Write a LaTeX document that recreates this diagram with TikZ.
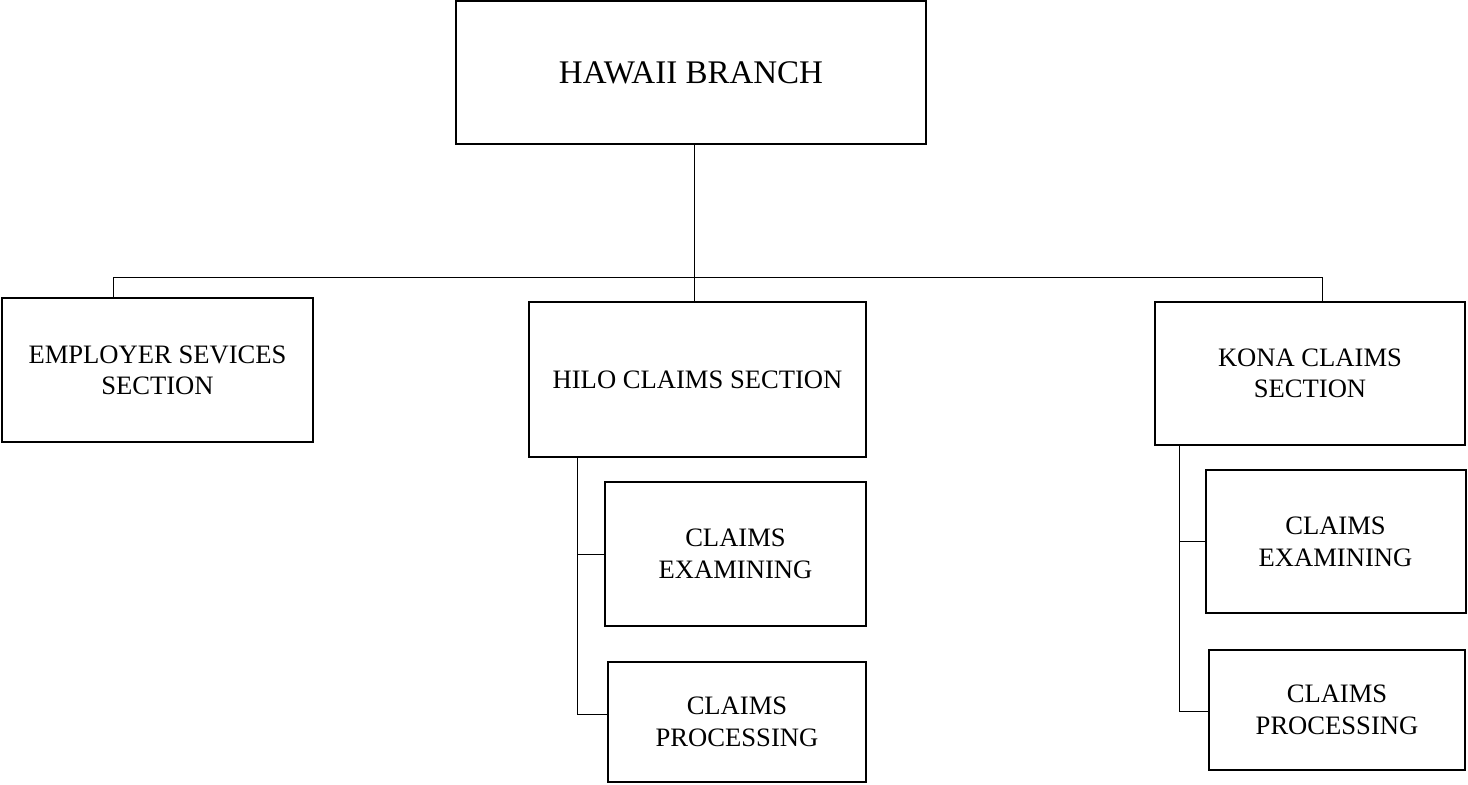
\documentclass[tikz,border=0pt]{standalone}
\usepackage{fontspec}
\setmainfont{Liberation Serif}
\usepackage{tikz}
\usetikzlibrary{positioning}
\tikzset{
  unitbox/.style={draw, line width=1pt, rectangle, align=center,
    inner sep=2pt, font=\fontsize{13.3}{15.5}\selectfont},
  topbox/.style={unitbox, font=\fontsize{16.5}{19}\selectfont},
  subunit/.style={unitbox, font=\fontsize{13.3}{16}\selectfont},
  link/.style={line width=0.5pt}
}

\begin{document}
\begin{tikzpicture}[x=0.5pt, y=-0.5pt]
        \useasboundingbox (0,0) rectangle (1468,784);
        \node[topbox, minimum width=235pt, minimum height=71.5pt] (branch) at (691,72.5) {HAWAII BRANCH};
        \node[unitbox, minimum width=155.5pt, minimum height=72pt] (employer) at (157.5,370) {EMPLOYER SEVICES\\SECTION};
        \node[unitbox, minimum width=168.5pt, minimum height=77.5pt] (hilo) at (697.5,379.5) {HILO CLAIMS SECTION};
        \node[unitbox, minimum width=155pt, minimum height=71.5pt] (kona) at (1310,373.5) {KONA CLAIMS\\SECTION};
        \node[subunit, minimum width=130.5pt, minimum height=72pt] (hiloexam) at (735.5,554) {CLAIMS\\EXAMINING};
        \node[subunit, minimum width=129pt, minimum height=60pt] (hiloproc) at (737,722) {CLAIMS\\PROCESSING};
        \node[subunit, minimum width=130pt, minimum height=71.5pt] (konaexam) at (1335.5,541.5) {CLAIMS\\EXAMINING};
        \node[subunit, minimum width=128pt, minimum height=60pt] (konaproc) at (1337,710) {CLAIMS\\PROCESSING};
        % branch to sections
        \coordinate (busL) at (113,277);
        \coordinate (busR) at (1322,277);
        \coordinate (trunk) at (694,277);
        \draw[link] (trunk |- branch.south) -- (trunk |- hilo.north);
        \draw[link] (busL |- employer.north) -- (busL) -- (busR) -- (busR |- kona.north);
        % hilo units
        \coordinate (hiloSpine) at (577,714);
        \draw[link] (hiloSpine |- hilo.south) -- (hiloSpine) -- (hiloproc.west |- hiloSpine);
        \draw[link] (hiloSpine |- hiloexam.west) -- (hiloexam.west);
        % kona units
        \coordinate (konaSpine) at (1179,711);
        \draw[link] (konaSpine |- kona.south) -- (konaSpine) -- (konaproc.west |- konaSpine);
        \draw[link] (konaSpine |- konaexam.west) -- (konaexam.west);
    \end{tikzpicture}
\end{document}
